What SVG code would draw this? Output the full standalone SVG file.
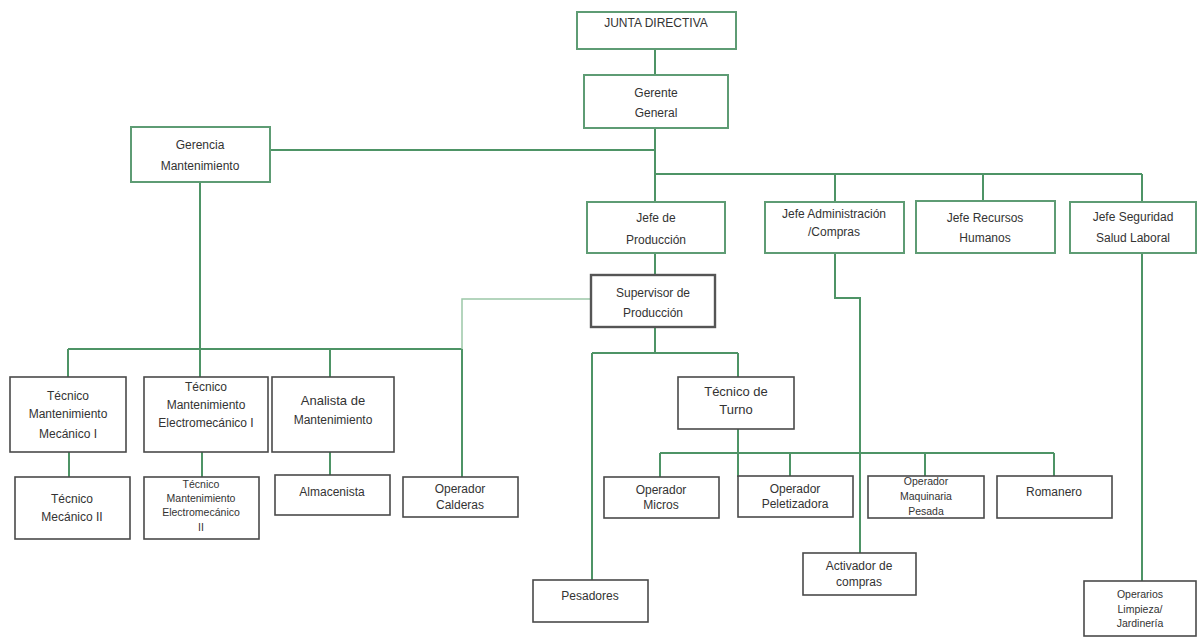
<svg xmlns="http://www.w3.org/2000/svg" width="1198" height="637" viewBox="0 0 1198 637">
<style>
.g{fill:#fff;stroke:#5e9c74;stroke-width:2}
.k{fill:#fff;stroke:#4a4a4a;stroke-width:1.6}
.s{fill:#fff;stroke:#555;stroke-width:2.4}
text{font-family:"Liberation Sans",Arial,sans-serif;font-size:12px;fill:#333;text-anchor:middle}
.sm{font-size:10.5px}
.lg{font-size:13px}
.c{fill:none;stroke:#4e9466;stroke-width:2}
.cl{fill:none;stroke:#9cc8a8;stroke-width:1.5}
</style>
<rect width="1198" height="637" fill="#fff"/>
<g id="connectors">
<path class="c" d="M655,49V75M655,128V202M270,150H655M655,174H1142M835,174V202M983,174V202M1142,174V202"/>
<path class="c" d="M200,182V377M68,349H462M68,349V377M330,349V377M462,349V477"/>
<path class="cl" d="M591,299H462V349"/>
<path class="c" d="M69,452V477M202,452V477M330,452V475"/>
<path class="c" d="M655,253V275M655,327V353M592,353H738M592,353V580M738,353V377M738,429V477"/>
<path class="c" d="M660,453H1054M660,453V477M790,453V477M925,453V477M1054,453V477"/>
<path class="c" d="M835,253V298H860V553"/>
<path class="c" d="M1142,253V581"/>
</g>
<g id="junta"><rect class="g" x="577" y="12" width="159" height="37"/><text x="656" y="27">JUNTA DIRECTIVA</text></g>
<g id="gerente"><rect class="g" x="584" y="75" width="144" height="53"/><text x="656" y="97">Gerente</text><text x="656" y="117">General</text></g>
<g id="gerencia"><rect class="g" x="131" y="127" width="139" height="55"/><text x="200" y="149">Gerencia</text><text x="200" y="170">Mantenimiento</text></g>
<g id="jefeprod"><rect class="g" x="587" y="202" width="138" height="51"/><text x="656" y="222">Jefe de</text><text x="656" y="244">Producción</text></g>
<g id="jefeadmin"><rect class="g" x="765" y="202" width="139" height="51"/><text x="834" y="218">Jefe Administración</text><text x="834" y="236">/Compras</text></g>
<g id="jeferrhh"><rect class="g" x="916" y="201" width="139" height="52"/><text x="985" y="222">Jefe Recursos</text><text x="985" y="242">Humanos</text></g>
<g id="jefeseg"><rect class="g" x="1070" y="202" width="126" height="51"/><text x="1133" y="221">Jefe Seguridad</text><text x="1133" y="242">Salud Laboral</text></g>
<g id="supervisor"><rect class="s" x="591" y="275" width="124" height="52"/><text x="653" y="297">Supervisor de</text><text x="653" y="317">Producción</text></g>
<g id="tecmec1"><rect class="k" x="10" y="377" width="116" height="75"/><text x="68" y="400">Técnico</text><text x="68" y="418">Mantenimiento</text><text x="68" y="438">Mecánico I</text></g>
<g id="tecelec1"><rect class="k" x="144" y="377" width="124" height="75"/><text x="206" y="391">Técnico</text><text x="206" y="409">Mantenimiento</text><text x="206" y="427">Electromecánico I</text></g>
<g id="analista"><rect class="k" x="272" y="377" width="122" height="75"/><text class="lg" x="333" y="405">Analista de</text><text x="333" y="424">Mantenimiento</text></g>
<g id="tecmec2"><rect class="k" x="15" y="477" width="115" height="62"/><text x="72" y="503">Técnico</text><text x="72" y="521">Mecánico II</text></g>
<g id="tecelec2"><rect class="k" x="144" y="477" width="115" height="62"/><text class="sm" x="201" y="488">Técnico</text><text class="sm" x="201" y="502">Mantenimiento</text><text class="sm" x="201" y="516">Electromecánico</text><text class="sm" x="201" y="531">II</text></g>
<g id="almacenista"><rect class="k" x="275" y="475" width="115" height="40"/><text x="332" y="496">Almacenista</text></g>
<g id="calderas"><rect class="k" x="403" y="477" width="115" height="40"/><text x="460" y="493">Operador</text><text x="460" y="509">Calderas</text></g>
<g id="tecturno"><rect class="k" x="678" y="377" width="116" height="52"/><text class="lg" x="736" y="396">Técnico de</text><text class="lg" x="736" y="414">Turno</text></g>
<g id="micros"><rect class="k" x="604" y="477" width="115" height="41"/><text x="661" y="494">Operador</text><text x="661" y="509">Micros</text></g>
<g id="peletizadora"><rect class="k" x="738" y="476" width="115" height="41"/><text x="795" y="493">Operador</text><text x="795" y="508">Peletizadora</text></g>
<g id="maquinaria"><rect class="k" x="868" y="476" width="116" height="42"/><text class="sm" x="926" y="485">Operador</text><text class="sm" x="926" y="500">Maquinaria</text><text class="sm" x="926" y="515">Pesada</text></g>
<g id="romanero"><rect class="k" x="997" y="476" width="115" height="42"/><text x="1054" y="496">Romanero</text></g>
<g id="activador"><rect class="k" x="803" y="553" width="113" height="42"/><text x="859" y="570">Activador de</text><text x="859" y="586">compras</text></g>
<g id="pesadores"><rect class="k" x="533" y="580" width="115" height="42"/><text x="590" y="600">Pesadores</text></g>
<g id="operarios"><rect class="k" x="1084" y="581" width="112" height="55"/><text class="sm" x="1140" y="598">Operarios</text><text class="sm" x="1140" y="613">Limpieza/</text><text class="sm" x="1140" y="627">Jardinería</text></g>
</svg>
